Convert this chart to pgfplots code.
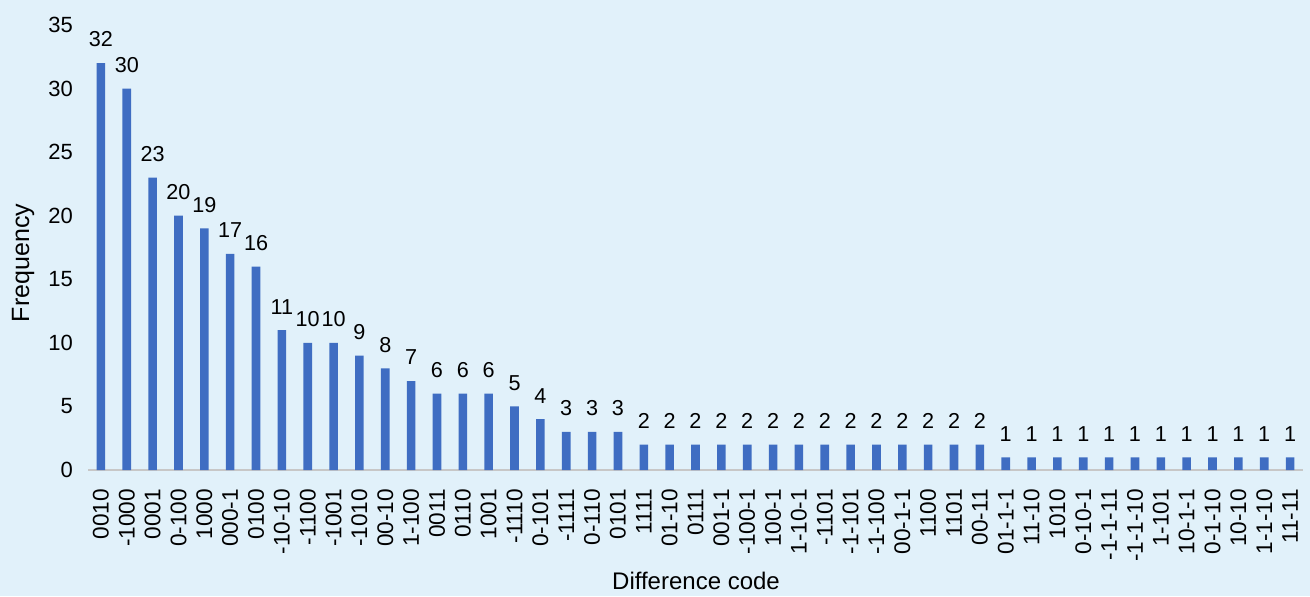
\documentclass[border=0pt]{standalone}
\usepackage{pgfplots}
\pgfplotsset{compat=1.18}
\usepackage{pgfplotstable}
\usepackage{fontspec}
\setmainfont{Liberation Sans}
\definecolor{bg}{HTML}{E1F1FA}
\definecolor{barblue}{HTML}{3F6DC2}
\pgfplotstableread{
x y
0 32
1 30
2 23
3 20
4 19
5 17
6 16
7 11
8 10
9 10
10 9
11 8
12 7
13 6
14 6
15 6
16 5
17 4
18 3
19 3
20 3
21 2
22 2
23 2
24 2
25 2
26 2
27 2
28 2
29 2
30 2
31 2
32 2
33 2
34 2
35 1
36 1
37 1
38 1
39 1
40 1
41 1
42 1
43 1
44 1
45 1
46 1
}\data
\begin{document}
\begin{tikzpicture}[font=\fontsize{11}{13.2}\selectfont]
\useasboundingbox (0,0) rectangle (655pt,298pt);
\fill[bg] (0,0) rectangle (655pt,298pt);
\begin{axis}[
  at={(44pt,63pt)}, anchor=south west,
  scale only axis,
  width=607.5pt, height=222.5pt,
  xmin=-0.5, xmax=46.5,
  ymin=0, ymax=35,
  ytick={0,5,...,35},
  xtick=data,
  xticklabels={0010,-1000,0001,0-100,1000,000-1,0100,-10-10,-1100,-1001,-1010,00-10,1-100,0011,0110,1001,-1110,0-101,-1111,0-110,0101,1111,01-10,0111,001-1,-100-1,100-1,1-10-1,-1101,-1-101,-1-100,00-1-1,1100,1101,00-11,01-1-1,11-10,1010,0-10-1,-1-1-11,-1-1-10,1-101,10-1-1,0-1-10,10-10,1-1-10,11-11},
  x tick label style={rotate=90, anchor=east, xshift=-6pt, font=\fontsize{11.3}{13.5}\selectfont},
  y tick label style={xshift=-4pt},
  major tick length=0pt,
  axis x line*=bottom,
  axis y line*=left,
  axis line style={-},
  x axis line style={draw=black!22, line width=0.8pt},
  y axis line style={draw=none},
  /pgf/number format/assume math mode=true,
  xlabel={Difference code},
  ylabel={Frequency},
  every axis y label/.style={at={(-32.5pt,103.5pt)}, anchor=center, rotate=90, font=\fontsize{12.5}{15}\selectfont},
  every axis x label/.style={at={(304pt,-55.5pt)}, anchor=center, font=\fontsize{12}{14.4}\selectfont},
  ybar, bar width=4.3pt,
  nodes near coords,
  every node near coord/.append style={font=\fontsize{10.8}{13}\selectfont, yshift=4.5pt},
]
\addplot[fill=barblue, draw=none] table[x=x, y=y] {\data};
\end{axis}
\end{tikzpicture}
\end{document}
